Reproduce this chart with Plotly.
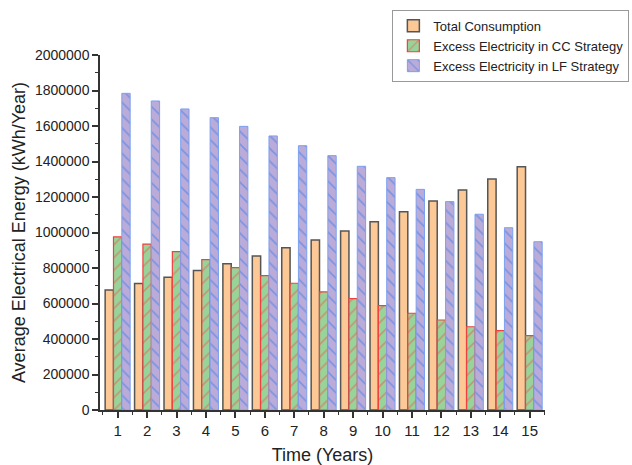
import plotly.graph_objects as go

years = list(range(1, 16))
total_consumption = [676000, 712000, 748000, 786000, 824000, 868000, 914000, 958000,
                     1008000, 1061000, 1117000, 1177000, 1239000, 1301000, 1371000]
excess_cc = [975000, 935000, 892000, 847000, 802000, 757000, 714000, 665000,
             627000, 588000, 545000, 507000, 469000, 447000, 419000]
excess_lf = [1784000, 1741000, 1696000, 1647000, 1598000, 1544000, 1489000, 1433000,
             1373000, 1309000, 1243000, 1174000, 1103000, 1027000, 948000]
y_ticks = list(range(0, 2000001, 200000))

fig = go.Figure()
fig.add_trace(go.Bar(
    x=years, y=total_consumption, name="Total Consumption",
    marker=dict(color="#FCC896", line=dict(color="#555555", width=1.5)),
))
fig.add_trace(go.Bar(
    x=years, y=excess_cc, name="Excess Electricity in CC Strategy",
    marker=dict(color="#98D49A", line=dict(color="#F04040", width=1.2),
                pattern=dict(shape="/", fgcolor="#E85A50", size=9, solidity=0.18)),
))
fig.add_trace(go.Bar(
    x=years, y=excess_lf, name="Excess Electricity in LF Strategy",
    marker=dict(color="#BBABD9", line=dict(color="#7BA0F0", width=1),
                pattern=dict(shape="\\", fgcolor="#3A7BEA", size=9, solidity=0.18)),
))

fig.update_layout(
    width=632, height=465,
    margin=dict(l=100, r=87, t=55, b=55, autoexpand=False),
    paper_bgcolor="white", plot_bgcolor="white",
    barmode="group", bargap=0.15, bargroupgap=0.0,
    font=dict(family="Liberation Sans, Arial, sans-serif", color="#222"),
    showlegend=True,
    legend=dict(x=0.657, y=1.127, xanchor="left", yanchor="top",
                bordercolor="#999", borderwidth=1, bgcolor="white",
                font=dict(size=13), tracegroupgap=0),
)
fig.update_xaxes(
    range=[0.4, 15.52], tickmode="array", tickvals=years, ticktext=[str(v) for v in years],
    showline=True, linecolor="#333", linewidth=1.5, showgrid=False, zeroline=False,
    ticks="outside", ticklen=6, tickwidth=1.5, tickcolor="#333",
    tickfont=dict(size=15), automargin=False,
    minor=dict(tickvals=[v + 0.5 for v in range(0, 16)], ticks="outside", ticklen=3,
               tickwidth=1, tickcolor="#333"),
    title=dict(text="Time (Years)", font=dict(size=18), standoff=13),
)
fig.update_yaxes(
    range=[0, 2000000], tickmode="array", tickvals=y_ticks, ticktext=[str(v) for v in y_ticks],
    showline=True, linecolor="#333", linewidth=1.5, showgrid=False, zeroline=False,
    ticks="outside", ticklen=6, tickwidth=1.5, tickcolor="#333",
    tickfont=dict(size=14), automargin=False,
    minor=dict(dtick=100000, ticks="outside", ticklen=3, tickwidth=1, tickcolor="#333"),
    title=dict(text="Average Electrical Energy (kWh/Year)", font=dict(size=18), standoff=5),
)

fig.write_html("out.html", config={"displayModeBar": False},
               post_script="document.body.style.margin='0';document.body.style.overflow='hidden';")
